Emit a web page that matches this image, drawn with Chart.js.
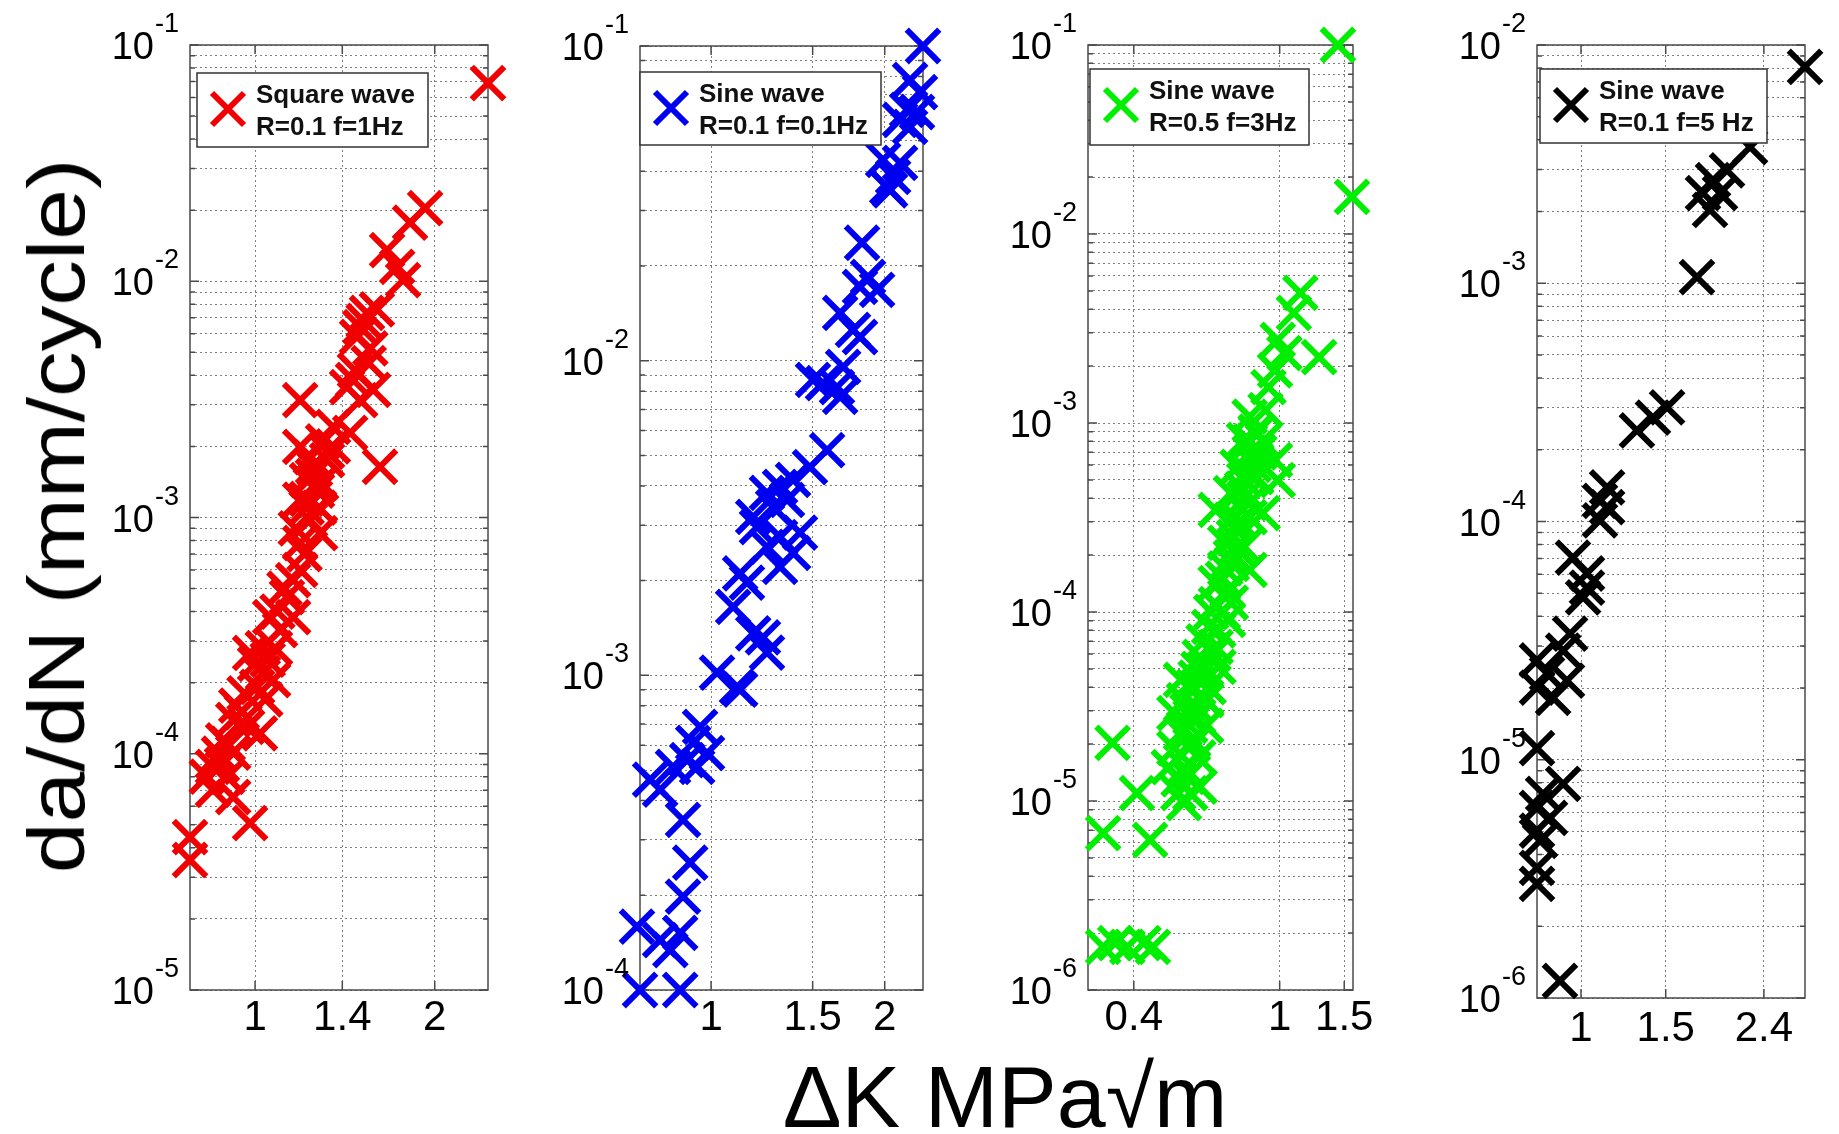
<!DOCTYPE html>
<html>
<head>
<meta charset="utf-8">
<script src="https://cdn.jsdelivr.net/npm/chart.js@4/dist/chart.umd.min.js"></script>
<style>
html,body{margin:0;padding:0;background:#fff;width:1839px;height:1134px;overflow:hidden;}
canvas{position:absolute;top:0;}
.t{position:absolute;font-family:"Liberation Sans",Arial,sans-serif;color:#000;white-space:nowrap;line-height:1;}
</style>
</head>
<body>
<canvas id="c1"></canvas>
<canvas id="c2"></canvas>
<canvas id="c3"></canvas>
<canvas id="c4"></canvas>
<div class="t" id="xtitle" style="left:505px;width:1000px;top:1053px;font-size:88px;text-align:center;">ΔK MPa√m</div>
<div style="position:absolute;left:57px;top:516px;width:0;height:0;">
  <div class="t" id="ytitle" style="left:0;top:0;font-size:80px;transform:translate(-50%,-50%) rotate(-90deg) scaleX(1.14);">da/dN (mm/cycle)</div>
</div>
<script>
// ---------------- data ----------------
// Panel 1: Square wave, R=0.1, f=1Hz
const squareDK = [2.456, 1.927, 1.818, 1.664, 1.77, 1.73, 1.54, 1.50, 1.482, 1.60, 1.459, 1.577, 1.50, 1.426, 1.19, 1.619, 1.351, 1.443, 1.19, 1.251, 1.32, 1.222, 1.27, 1.19, 1.236, 1.285, 1.19, 1.19, 1.158, 1.131, 1.06, 1.158, 1.101, 0.981, 1.031, 1.072, 1.008, 1.04, 0.919, 0.97, 1.019, 0.884, 0.919, 0.85, 0.898, 0.85, 0.919, 0.981, 0.778, 0.778, 1.27, 1.22, 1.25, 1.32, 1.05, 1.08, 0.95,
  1.22, 1.26, 1.29, 1.24, 1.28, 1.17, 1.21, 1.30, 1.35, 1.12, 1.09, 1.0, 1.03, 0.96, 0.93, 0.90, 0.87, 0.83, 0.88, 1.52, 1.56, 1.47, 1.55];
const squareRate = [0.069, 0.0204, 0.0177, 0.01355, 0.0101, 0.0115, 0.00734, 0.0064, 0.00581, 0.0076, 0.00382, 0.00347, 0.00314, 0.00356, 0.00314, 0.00164, 0.00242, 0.00228, 0.00199, 0.00164, 0.00175, 0.00144, 0.00135, 0.00119, 0.000975, 0.000859, 0.00078, 0.0006, 0.000543, 0.00046, 0.000379, 0.000379, 0.000334, 0.000267, 0.00022, 0.000205, 0.000192, 0.00017, 0.000139, 0.00013, 0.000122, 0.000114, 0.000101, 0.0000879, 0.0000798, 0.0000703, 0.0000656, 0.0000509, 0.0000444, 0.0000355, 0.0013, 0.0011, 0.0015, 0.0019, 0.00025, 0.00028, 0.00015,
  0.0012, 0.0016, 0.0014, 0.0018, 0.0011, 0.0009, 0.0007, 0.0021, 0.002, 0.0005, 0.0004, 0.00024, 0.00028, 0.00018, 0.00016, 0.00011, 0.0001, 0.00008, 0.00009, 0.0068, 0.0052, 0.0042, 0.0045];

// Panel 2: Sine wave, R=0.1, f=0.1Hz
const sineSlowDK = [2.33, 2.213, 2.302, 2.187, 2.275, 2.126, 2.213, 1.987, 2.126, 2.068, 2.043, 2.02, 1.827, 1.871, 1.812, 1.94, 1.674, 1.762, 1.812, 1.502, 1.563, 1.653, 1.694, 1.674, 1.589, 1.484, 1.387, 1.317, 1.25, 1.354, 1.183, 1.281, 1.201, 1.317, 1.426, 1.25, 1.387, 1.317, 1.123, 1.154, 1.092, 1.183, 1.23, 1.25, 1.024, 1.109, 1.123, 0.957, 0.931, 0.984, 0.909, 0.859, 0.784, 0.946, 0.816, 0.894, 0.92, 0.894, 0.744, 0.816, 0.884, 0.85, 0.753, 0.884];
const sineSlowRate = [0.1, 0.078, 0.0714, 0.0627, 0.0617, 0.0582, 0.0553, 0.0435, 0.0425, 0.0384, 0.0348, 0.0356, 0.0237, 0.01845, 0.01715, 0.0168, 0.01419, 0.01253, 0.01189, 0.00869, 0.00849, 0.00824, 0.00955, 0.00767, 0.0052, 0.00459, 0.00418, 0.00397, 0.0038, 0.00361, 0.00319, 0.00343, 0.00296, 0.00275, 0.00284, 0.00256, 0.00245, 0.00221, 0.00211, 0.00197, 0.00165, 0.00136, 0.00132, 0.00118, 0.00102, 0.000919, 0.0009, 0.000686, 0.00061, 0.000566, 0.000538, 0.000512, 0.000466, 0.000512, 0.000433, 0.000347, 0.000254, 0.000198, 0.000159, 0.000144, 0.000152, 0.000134, 0.0001, 0.0001];

// Panel 3: Sine wave, R=0.5, f=3Hz
const sineMidDK = [1.442, 1.575, 1.139, 1.093, 0.988, 1.03, 1.281, 0.971, 0.932, 0.915, 0.828, 0.863, 0.799, 0.828, 0.971, 0.767, 0.863, 0.988, 0.736, 0.828, 0.669, 0.899, 0.736, 0.828, 0.71, 0.799, 0.736, 0.828, 0.669, 0.736, 0.723, 0.642, 0.669, 0.605, 0.681, 0.538, 0.581, 0.631, 0.548, 0.516, 0.571, 0.538, 0.581, 0.516, 0.498, 0.561, 0.605, 0.529, 0.548, 0.35, 0.408, 0.33, 0.443, 0.33, 0.356, 0.384, 0.425, 0.451, 0.6, 0.62, 0.56, 0.65, 0.7, 0.75, 0.85, 0.9, 0.8, 0.57, 0.59,
  0.55, 0.58, 0.60, 0.62, 0.64, 0.66, 0.68, 0.70, 0.72, 0.74, 0.76, 0.78, 0.80, 0.82, 0.84, 0.86, 0.88, 0.83, 0.79, 0.75, 0.71, 0.67, 0.63, 0.59, 0.55, 0.53, 0.57, 0.60, 0.63];
const sineMidRate = [0.1, 0.0157, 0.00488, 0.00382, 0.00275, 0.00234, 0.00223, 0.0019, 0.00155, 0.00117, 0.00108, 0.000885, 0.000813, 0.000694, 0.000637, 0.000585, 0.000518, 0.000499, 0.000426, 0.000377, 0.000347, 0.000334, 0.000307, 0.000318, 0.000232, 0.000221, 0.000195, 0.000167, 0.000142, 0.000112, 0.0000908, 0.0000834, 0.0000653, 0.0000578, 0.0000512, 0.0000437, 0.0000401, 0.0000342, 0.0000342, 0.0000292, 0.0000278, 0.0000229, 0.000021, 0.000019, 0.0000151, 0.0000134, 0.0000119, 0.000011, 0.00000975, 0.0000203, 0.000011, 0.00000677, 0.00000622, 0.00000169, 0.00000177, 0.00000169, 0.00000177, 0.00000169, 0.00005, 0.00007, 0.00003, 0.0001, 0.00015, 0.00025, 0.0006, 0.0008, 0.0005, 0.000025, 0.000045,
  0.000015, 0.00002, 0.000028, 0.000035, 0.00004, 0.00006, 0.00008, 0.0001, 0.00013, 0.00018, 0.00022, 0.0003, 0.0004, 0.00055, 0.0007, 0.0009, 0.0007, 0.0008, 0.00045, 0.00028, 0.00017, 0.00011, 0.00005, 0.000032, 0.000024, 0.000013, 0.000011, 0.000017, 0.000025];

// Panel 4: Sine wave, R=0.1, f=5 Hz
const sineFastDK = [2.922, 2.246, 2.012, 1.881, 1.793, 1.945, 1.854, 1.742, 1.51, 1.411, 1.307, 1.133, 1.095, 1.133, 1.095, 0.962, 1.029, 1.029, 1.01, 0.949, 0.918, 0.81, 0.85, 0.935, 0.81, 0.875, 0.81, 0.918, 0.834, 0.81, 0.862, 0.81, 0.822, 0.81, 0.81, 0.904];
const sineFastRate = [0.00809, 0.00373, 0.00298, 0.00271, 0.00239, 0.00239, 0.00203, 0.00106, 0.000301, 0.000273, 0.000241, 0.000139, 0.000122, 0.000115, 0.000101, 0.0000706, 0.0000605, 0.0000528, 0.000048, 0.0000338, 0.0000287, 0.0000261, 0.000023, 0.0000215, 0.0000201, 0.0000182, 0.0000112, 0.00000792, 0.00000719, 0.00000628, 0.0000057, 0.00000504, 0.00000457, 0.00000352, 0.00000301, 0.00000118];

// tick labels
const xTicks1 = [1, 1.4, 2];
const xTicks2 = [1, 1.5, 2];
const xTicks3 = [0.4, 1, 1.5];
const xTicks4 = [1, 1.5, 2.4];
// axis ranges
const xRange1 = [0.778, 2.456], yExp1 = [-5, -1];
const xRange2 = [0.753, 2.33],  yExp2 = [-4, -1];
const xRange3 = [0.332, 1.585], yExp3 = [-6, -1];
const xRange4 = [0.81, 2.922],  yExp4 = [-6, -2];
// legend texts
const legend1 = ['Square wave', 'R=0.1 f=1Hz'];
const legend2 = ['Sine wave', 'R=0.1 f=0.1Hz'];
const legend3 = ['Sine wave', 'R=0.5 f=3Hz'];
const legend4 = ['Sine wave', 'R=0.1 f=5 Hz'];

// ---------------- layout / style ----------------
const FONT = '"Liberation Sans", Arial, sans-serif';
const CH = 1060, LEFTW = 110, RIGHTP = 34;
const GRID = '#808080';
const panels = [
  {id:'c1', dk:squareDK, rate:squareRate, color:'rgb(240,0,0)', xt:xTicks1, xr:xRange1, ye:yExp1, legend:legend1,
   area:{l:190, t:45, r:488, b:990}, tickPad:3, lg:{dx:7, dy:28, w:231, h:74}},
  {id:'c2', dk:sineSlowDK, rate:sineSlowRate, color:'rgb(0,0,240)', xt:xTicks2, xr:xRange2, ye:yExp2, legend:legend2,
   area:{l:640, t:46, r:923, b:990}, tickPad:3, lg:{dx:0, dy:26, w:241, h:73}},
  {id:'c3', dk:sineMidDK, rate:sineMidRate, color:'rgb(0,238,0)', xt:xTicks3, xr:xRange3, ye:yExp3, legend:legend3,
   area:{l:1088, t:45, r:1353, b:990}, tickPad:3, lg:{dx:2, dy:24, w:219, h:76}},
  {id:'c4', dk:sineFastDK, rate:sineFastRate, color:'rgb(0,0,0)', xt:xTicks4, xr:xRange4, ye:yExp4, legend:legend4,
   area:{l:1537, t:45, r:1805, b:998}, tickPad:6, lg:{dx:3, dy:24, w:227, h:74}}
];

function decadeTicks(e0, e1) {
  const out = [];
  for (let e = e0; e < e1; e++) for (let m = 1; m <= 9; m++) out.push(m * Math.pow(10, e));
  out.push(Math.pow(10, e1));
  return out;
}

const deco = {
  id: 'deco',
  beforeDatasetsDraw(chart, args, o) {
    const {ctx, chartArea: a, scales: {x, y}} = chart;
    ctx.save();
    ctx.strokeStyle = '#4a4a4a';
    ctx.lineWidth = 1.5;
    ctx.beginPath();
    y.ticks.forEach(t => {
      const py = y.getPixelForValue(t.value);
      const lg = Math.log10(t.value);
      const len = Math.abs(lg - Math.round(lg)) < 1e-6 ? 9 : 5;
      ctx.moveTo(a.left, py); ctx.lineTo(a.left + len, py);
      ctx.moveTo(a.right - len, py); ctx.lineTo(a.right, py);
    });
    x.ticks.forEach(t => {
      const px = x.getPixelForValue(t.value);
      ctx.moveTo(px, a.bottom); ctx.lineTo(px, a.bottom - 9);
      ctx.moveTo(px, a.top); ctx.lineTo(px, a.top + 9);
    });
    ctx.stroke();
    ctx.strokeRect(a.left, a.top, a.right - a.left, a.bottom - a.top);
    ctx.restore();
  },
  afterDatasetsDraw(chart, args, o) {
    const {ctx, chartArea: a, scales: {y}} = chart;
    ctx.save();
    // legend box
    const bx = a.left + o.lg.dx, by = a.top + o.lg.dy;
    ctx.fillStyle = '#fff';
    ctx.fillRect(bx, by, o.lg.w, o.lg.h);
    ctx.strokeStyle = '#333';
    ctx.lineWidth = 1.5;
    ctx.strokeRect(bx, by, o.lg.w, o.lg.h);
    const mx = bx + 31, my = by + 36, h = 16;
    ctx.strokeStyle = o.color;
    ctx.lineWidth = 6;
    ctx.beginPath();
    ctx.moveTo(mx - h, my - h); ctx.lineTo(mx + h, my + h);
    ctx.moveTo(mx + h, my - h); ctx.lineTo(mx - h, my + h);
    ctx.stroke();
    ctx.fillStyle = '#111';
    ctx.font = 'bold 26px ' + FONT;
    ctx.textAlign = 'left';
    ctx.textBaseline = 'alphabetic';
    ctx.fillText(o.legend[0], bx + 59, by + 30);
    ctx.fillText(o.legend[1], bx + 59, by + 62);
    // y tick labels 10^n
    ctx.fillStyle = '#000';
    for (let e = o.ye[0]; e <= o.ye[1]; e++) {
      const py = y.getPixelForValue(Math.pow(10, e));
      ctx.font = '38px ' + FONT;
      ctx.textAlign = 'right';
      ctx.fillText('10', a.left - 36, py + 14);
      ctx.font = '27px ' + FONT;
      ctx.textAlign = 'left';
      ctx.fillText(String(e), a.left - 35, py - 13);
    }
    ctx.restore();
  }
};

panels.forEach(p => {
  const cv = document.getElementById(p.id);
  const W = (p.area.r - p.area.l) + LEFTW + RIGHTP;
  cv.width = W; cv.height = CH;
  cv.style.left = (p.area.l - LEFTW) + 'px';
  cv.style.width = W + 'px'; cv.style.height = CH + 'px';
  const yt = decadeTicks(p.ye[0], p.ye[1]);
  new Chart(cv, {
    type: 'scatter',
    data: {
      datasets: [{
        label: p.legend.join(' '),
        data: p.dk.map((v, i) => ({x: v, y: p.rate[i]})),
        pointStyle: 'crossRot',
        pointRadius: 23,
        pointHoverRadius: 23,
        pointBorderWidth: 6,
        pointHoverBorderWidth: 6,
        borderColor: p.color,
        pointBorderColor: p.color,
        backgroundColor: p.color,
        clip: false
      }]
    },
    options: {
      responsive: false,
      animation: false,
      devicePixelRatio: 1,
      events: [],
      layout: {padding: {left: 0, right: RIGHTP, top: p.area.t, bottom: 0}},
      plugins: {
        legend: {display: false},
        tooltip: {enabled: false},
        deco: {lg: p.lg, color: p.color, legend: p.legend, ye: p.ye}
      },
      scales: {
        x: {
          type: 'logarithmic', position: 'bottom', min: p.xr[0], max: p.xr[1],
          afterBuildTicks: s => { s.ticks = p.xt.map(v => ({value: v})); },
          afterFit: s => { s.height = CH - p.area.b; },
          grid: {color: GRID, lineWidth: 1, drawTicks: false},
          border: {display: false, dash: [2, 3]},
          ticks: {font: {family: FONT, size: 42}, color: '#000', padding: p.tickPad,
                  maxRotation: 0, autoSkip: false, callback: v => String(v)}
        },
        y: {
          type: 'logarithmic', position: 'left', min: Math.pow(10, p.ye[0]), max: Math.pow(10, p.ye[1]),
          afterBuildTicks: s => { s.ticks = yt.map(v => ({value: v})); },
          afterFit: s => { s.width = LEFTW; },
          grid: {color: GRID, lineWidth: 1, drawTicks: false},
          border: {display: false, dash: [2, 3]},
          ticks: {display: false}
        }
      }
    },
    plugins: [deco]
  });
});
</script>
</body>
</html>
